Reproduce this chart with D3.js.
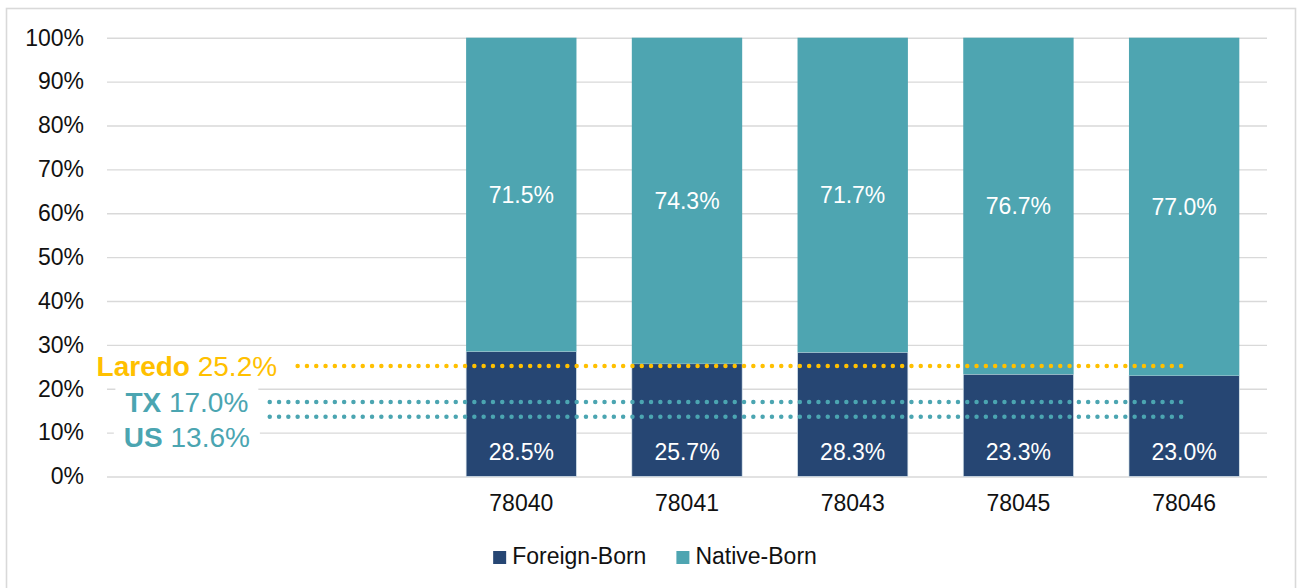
<!DOCTYPE html>
<html>
<head>
<meta charset="utf-8">
<script src="https://cdn.jsdelivr.net/npm/d3@7"></script>
<style>
  body { margin: 0; background: #fff; }
  svg { display: block; font-family: "Liberation Sans", Arial, sans-serif; }
</style>
</head>
<body>
<div id="chart"></div>
<script>
// values (percent)
const categories = ['', '', '78040', '78041', '78043', '78045', '78046'];
const foreignBorn = [null, null, 28.5, 25.7, 28.3, 23.3, 23.0];
const nativeBorn = [null, null, 71.5, 74.3, 71.7, 76.7, 77.0];
const refNames = ['Laredo', 'TX', 'US'];
const refValues = [25.2, 17.0, 13.6];
const yTicks = [0, 10, 20, 30, 40, 50, 60, 70, 80, 90, 100];
const seriesNames = ['Foreign-Born', 'Native-Born'];

const config = {
  width: 1297,
  height: 588,
  plot: {left: 107, right: 1267, top: 37.7, bottom: 476.5},
  colors: {'Foreign-Born': '#264673', 'Native-Born': '#4EA5B1'},
  refColors: {Laredo: '#FFC000', TX: '#4BA5B1', US: '#4BA5B1'},
  labelNudge: {Laredo: 0, TX: 0, US: 20},
  dotGap: 9.3,
  grid: '#d9d9d9'
};

const svg = d3.select('#chart').append('svg')
  .attr('width', config.width)
  .attr('height', config.height);

// chart border
svg.append('rect')
  .attr('x', 6.5).attr('y', 8.5)
  .attr('width', 1289).attr('height', 620)
  .attr('fill', 'none')
  .attr('stroke', config.grid)
  .attr('stroke-width', 1.6);

const x = d3.scaleBand()
  .domain(d3.range(categories.length))
  .range([config.plot.left, config.plot.right])
  .paddingInner(0.334)
  .paddingOuter(0.167);

const y = d3.scaleLinear()
  .domain([0, 100])
  .range([config.plot.bottom, config.plot.top]);

// y axis + gridlines
const yAxis = svg.append('g')
  .attr('transform', `translate(${config.plot.left},0)`)
  .call(d3.axisLeft(y)
    .tickValues(yTicks)
    .tickFormat(d => d + '%')
    .tickSize(-(config.plot.right - config.plot.left))
    .tickPadding(23));
yAxis.select('.domain').remove();
yAxis.selectAll('.tick line').attr('stroke', config.grid).attr('stroke-width', 1.4);
yAxis.selectAll('.tick text')
  .attr('fill', '#111')
  .style('font-size', '23px');

// x axis labels
const xAxis = svg.append('g')
  .attr('transform', `translate(0,${config.plot.bottom})`)
  .call(d3.axisBottom(x)
    .tickFormat(i => categories[i])
    .tickSize(0)
    .tickPadding(18));
xAxis.select('.domain').remove();
xAxis.selectAll('.tick text')
  .attr('fill', '#111')
  .style('font-size', '23px');

// stacked bars
const rows = categories.map((c, i) => ({i, foreign: foreignBorn[i], native: nativeBorn[i]}))
  .filter(d => d.foreign != null);

const barG = svg.append('g');
barG.selectAll('rect.foreign')
  .data(rows)
  .join('rect')
  .attr('class', 'foreign')
  .attr('x', d => x(d.i))
  .attr('width', x.bandwidth())
  .attr('y', d => y(d.foreign))
  .attr('height', d => y(0) - y(d.foreign))
  .attr('fill', config.colors['Foreign-Born'])
  .attr('stroke', '#dbe7ee')
  .attr('stroke-width', 0.7);

barG.selectAll('rect.native')
  .data(rows)
  .join('rect')
  .attr('class', 'native')
  .attr('x', d => x(d.i))
  .attr('width', x.bandwidth())
  .attr('y', d => y(d.foreign + d.native))
  .attr('height', d => y(d.foreign) - y(d.foreign + d.native))
  .attr('fill', config.colors['Native-Born']);

// value labels
const labelG = svg.append('g')
  .attr('fill', '#fff')
  .attr('text-anchor', 'middle')
  .style('font-size', '23px');
labelG.selectAll('text.nat')
  .data(rows)
  .join('text')
  .attr('class', 'nat')
  .attr('x', d => x(d.i) + x.bandwidth() / 2)
  .attr('y', d => y(d.foreign + d.native / 2))
  .attr('dy', '0.35em')
  .text(d => d.native.toFixed(1) + '%');
labelG.selectAll('text.for')
  .data(rows)
  .join('text')
  .attr('class', 'for')
  .attr('x', d => x(d.i) + x.bandwidth() / 2)
  .attr('y', y(0) - 16.5)
  .text(d => d.foreign.toFixed(1) + '%');

// reference labels with white backing, dotted line starts where the label ends
const refs = refNames.map((n, k) => ({name: n, value: refValues[k]}));
const lastCat = categories.length - 1;
const refLabelX = x(0) + x.bandwidth() / 2 - 3;
const refEndX = x(lastCat) + x.bandwidth() / 2 - 3;
const refLineG = svg.append('g');
const refLabelG = svg.append('g');
refs.forEach(d => {
  const g = refLabelG.append('g');
  const bg = g.append('rect').attr('fill', '#fff');
  const t = g.append('text')
    .attr('x', refLabelX)
    .attr('y', y(d.value) + config.labelNudge[d.name])
    .attr('dy', '0.36em')
    .attr('text-anchor', 'middle')
    .attr('fill', config.refColors[d.name])
    .style('font-size', '28px');
  t.append('tspan').attr('font-weight', 'bold').text(d.name);
  t.append('tspan').text(' ' + d.value.toFixed(1) + '%');
  const b = t.node().getBBox();
  bg.attr('x', b.x - 10).attr('y', b.y + 1)
    .attr('width', b.width + 20).attr('height', b.height - 2);

  // snap the start so all dotted lines end on the same dot
  const start = b.x + b.width + 13;
  const n = Math.floor((refEndX - start) / config.dotGap);
  refLineG.append('line')
    .attr('x1', refEndX - n * config.dotGap)
    .attr('x2', refEndX + 0.1)
    .attr('y1', y(d.value))
    .attr('y2', y(d.value))
    .attr('stroke', config.refColors[d.name])
    .attr('stroke-width', 4.5)
    .attr('stroke-linecap', 'round')
    .attr('stroke-dasharray', `0 ${config.dotGap}`);
});

// legend
const legend = svg.append('g').style('font-size', '23px');
let lx = 0;
seriesNames.forEach(name => {
  const item = legend.append('g').attr('transform', `translate(${lx},0)`);
  item.append('rect')
    .attr('x', 0).attr('y', -12)
    .attr('width', 13).attr('height', 13)
    .attr('fill', config.colors[name]);
  const t = item.append('text')
    .attr('x', 19).attr('y', 1)
    .attr('fill', '#111')
    .text(name);
  lx += 19 + t.node().getComputedTextLength() + 30;
});
const legendW = lx - 30;
legend.attr('transform', `translate(${655 - legendW / 2},563)`);
</script>
</body>
</html>
